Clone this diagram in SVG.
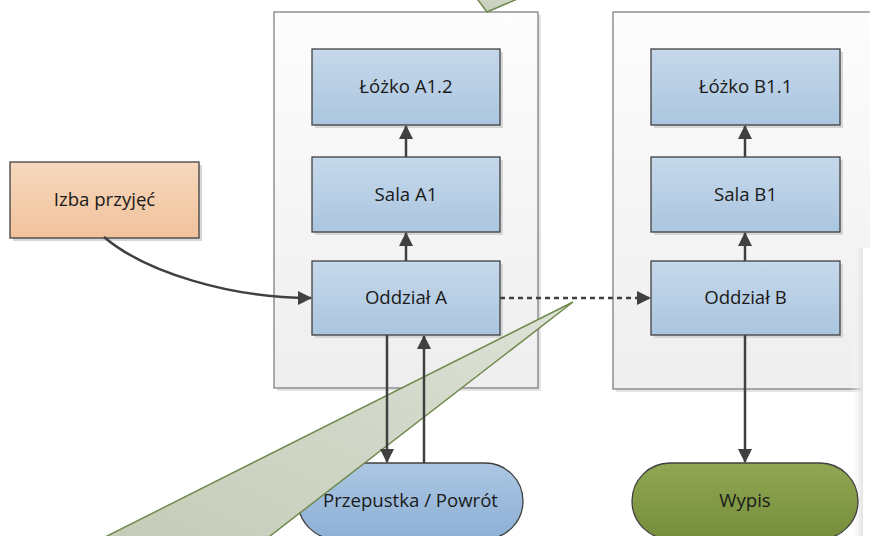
<svg xmlns="http://www.w3.org/2000/svg" width="870" height="536" viewBox="0 0 870 536">
<defs>
<linearGradient id="gCont" x1="0" y1="0" x2="0" y2="1"><stop offset="0" stop-color="#fdfdfd"/><stop offset="1" stop-color="#eeeeee"/></linearGradient>
<linearGradient id="gNode" x1="0" y1="0" x2="0" y2="1"><stop offset="0" stop-color="#c6d8ea"/><stop offset="1" stop-color="#abc6e0"/></linearGradient>
<linearGradient id="gIzba" x1="0" y1="0" x2="0" y2="1"><stop offset="0" stop-color="#f6d8bd"/><stop offset="1" stop-color="#f1c29c"/></linearGradient>
<linearGradient id="gPrz" x1="0" y1="0" x2="0" y2="1"><stop offset="0" stop-color="#abc6e2"/><stop offset="1" stop-color="#8db0d6"/></linearGradient>
<linearGradient id="gWyp" x1="0" y1="0" x2="0" y2="1"><stop offset="0" stop-color="#90a653"/><stop offset="1" stop-color="#768e3b"/></linearGradient>
<linearGradient id="gCall" x1="1" y1="0" x2="0" y2="1"><stop offset="0" stop-color="#dde2d6"/><stop offset="1" stop-color="#c2cab6"/></linearGradient>
<linearGradient id="gPanelSh" x1="0" y1="0" x2="1" y2="0"><stop offset="0" stop-color="#ffffff" stop-opacity="0"/><stop offset="1" stop-color="#e2e2e2"/></linearGradient>
<marker id="arr" viewBox="0 0 14 14" refX="13" refY="7" markerWidth="14" markerHeight="14" markerUnits="userSpaceOnUse" orient="auto"><path d="M0,0 L14,7 L0,14 Z" fill="#404040"/></marker>
</defs>
<style>
.cont{fill:url(#gCont);stroke:#808080;stroke-width:1.3}
.csh{fill:#e4e4e4}
.sh{fill:#d6d6d6}
.node{fill:url(#gNode);stroke:#404040;stroke-width:1.3}
.lbl{font-family:"Open Sans","Liberation Sans",sans-serif;font-size:18.6px;fill:#1a1a1a;text-anchor:middle}
.con{fill:none;stroke:#404040;stroke-width:2.5}
.call{fill:url(#gCall);stroke:#6f8a4d;stroke-width:1.5}
</style>
<rect x="0" y="0" width="870" height="536" fill="#ffffff"/>
<g id="containerA">
<rect class="csh" x="277" y="15" width="264" height="376"/>
<rect class="cont" x="274" y="12" width="264" height="376"/>
</g>
<g id="containerB">
<rect class="csh" x="616" y="15" width="270" height="377"/>
<rect class="cont" x="613" y="12" width="270" height="377"/>
</g>
<g id="panelRight">
<rect x="850" y="248" width="13" height="288" fill="url(#gPanelSh)"/>
<rect x="863" y="248" width="10" height="290" fill="#ffffff"/>
</g>
<g id="izba">
<rect class="sh" x="13" y="165" width="189" height="76"/>
<rect x="10" y="162" width="189" height="76" fill="url(#gIzba)" stroke="#404040" stroke-width="1.3"/>
<text class="lbl" x="104.5" y="206">Izba przyjęć</text>
</g>
<g id="lozkoA12">
<rect class="sh" x="315" y="52" width="188" height="76"/>
<rect class="node" x="312" y="49" width="188" height="76"/>
<text class="lbl" x="406" y="93">Łóżko A1.2</text>
</g>
<g id="salaA1">
<rect class="sh" x="315" y="160" width="188" height="75"/>
<rect class="node" x="312" y="157" width="188" height="75"/>
<text class="lbl" x="406" y="201">Sala A1</text>
</g>
<g id="oddzialA">
<rect class="sh" x="315" y="264" width="188" height="74"/>
<rect class="node" x="312" y="261" width="188" height="74"/>
<text class="lbl" x="406" y="304">Oddział A</text>
</g>
<g id="lozkoB11">
<rect class="sh" x="654" y="52" width="189" height="76"/>
<rect class="node" x="651" y="49" width="189" height="76"/>
<text class="lbl" x="745.5" y="93">Łóżko B1.1</text>
</g>
<g id="salaB1">
<rect class="sh" x="654" y="160" width="189" height="75"/>
<rect class="node" x="651" y="157" width="189" height="75"/>
<text class="lbl" x="745.5" y="201">Sala B1</text>
</g>
<g id="oddzialB">
<rect class="sh" x="654" y="264" width="189" height="74"/>
<rect class="node" x="651" y="261" width="189" height="74"/>
<text class="lbl" x="745.5" y="304">Oddział B</text>
</g>
<g id="przepustka">
<rect x="298" y="463" width="225" height="76" rx="38" ry="38" fill="url(#gPrz)" stroke="#404040" stroke-width="1.3"/>
<text class="lbl" x="410.5" y="507">Przepustka / Powrót</text>
</g>
<g id="wypis">
<rect x="632" y="463" width="226" height="76" rx="38" ry="38" fill="url(#gWyp)" stroke="#404040" stroke-width="1.3"/>
<text class="lbl" x="745" y="507">Wypis</text>
</g>
<g id="callouts">
<polygon class="call" points="573,302 239,560 59.3,560"/>
<polygon class="call" points="470.5,-10 487,12 538.3,-10"/>
</g>
<g id="connectors">
<path class="con" d="M104,237 C145,272 230,298 311,298" marker-end="url(#arr)"/>
<path class="con" d="M500,298 L650,298" stroke-dasharray="5,4" marker-end="url(#arr)"/>
<path class="con" d="M406,261 L406,233" marker-end="url(#arr)"/>
<path class="con" d="M406,157 L406,126" marker-end="url(#arr)"/>
<path class="con" d="M745,261 L745,233" marker-end="url(#arr)"/>
<path class="con" d="M745,157 L745,126" marker-end="url(#arr)"/>
<path class="con" d="M387,335 L387,462" marker-end="url(#arr)"/>
<path class="con" d="M424,463 L424,336" marker-end="url(#arr)"/>
<path class="con" d="M745,335 L745,462" marker-end="url(#arr)"/>
</g>
</svg>
